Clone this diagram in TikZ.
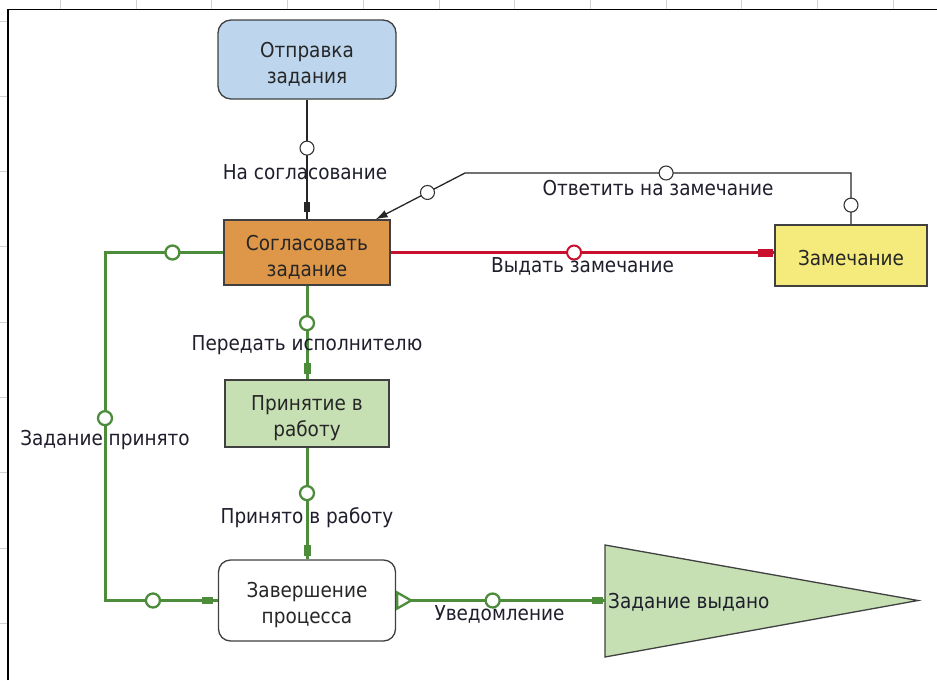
\documentclass[tikz,border=0pt]{standalone}
\usepackage{fontspec}
\setmainfont{DejaVu Sans}[FakeStretch=0.9]
\usetikzlibrary{calc,arrows.meta}

\definecolor{blueFill}{RGB}{189,214,238}
\definecolor{orangeFill}{RGB}{222,151,72}
\definecolor{yellowFill}{RGB}{245,235,125}
\definecolor{greenFill}{RGB}{198,224,180}
\definecolor{greenLine}{RGB}{76,140,58}
\definecolor{redLine}{RGB}{200,16,46}
\definecolor{labelText}{RGB}{30,30,45}
\newcommand{\topgap}[1]{\rule{0pt}{#1pt}}

\tikzset{
    box/.style={draw=black!75, line width=1.3pt, align=center, inner sep=0pt,
        font=\fontsize{20.5}{26}\selectfont, text=black!85},
    lbl/.style={font=\fontsize{20.5}{24}\selectfont, text=labelText, inner sep=0pt},
    ring/.style={circle, draw=#1, fill=white, minimum size=14pt, inner sep=0pt},
    bline/.style={draw=black!85, line width=1.3pt},
    gline/.style={draw=greenLine, line width=3pt},
    rline/.style={draw=redLine, line width=2.5pt},
    bmark/.style={rectangle, fill=black!85, minimum width=10pt, minimum height=6pt, inner sep=0pt},
    gmark/.style={rectangle, fill=greenLine, minimum width=11pt, minimum height=7pt, inner sep=0pt},
    rmark/.style={rectangle, fill=redLine, minimum width=15pt, minimum height=8pt, inner sep=0pt},
    gridline/.style={draw=gray!35, line width=1pt}
}

\begin{document}
\begin{tikzpicture}[x=1pt, y=-1pt]
    \useasboundingbox (0,0) rectangle (937,680);
    \foreach \gx in {0,...,11} \draw[gridline] (60.5+75.7*\gx,0) -- (60.5+75.7*\gx,8.5); % 表格网格
    \foreach \gy in {0,...,8} \draw[gridline] (0,21+75.3*\gy) -- (7.5,21+75.3*\gy);
    \draw[line width=1.5pt] (8,680) -- (8,9.5) -- (937,9.5); % 边框

    \node[box, rounded corners=13pt, fill=blueFill, minimum width=178pt, minimum height=79pt] (otpravka) at (307,59.5) {\topgap{25}Отправка\\задания}; % 开始
    \node[box, fill=orangeFill, minimum width=166pt, minimum height=65pt] (soglas) at (307,252.5) {\topgap{25}Согласовать\\задание};
    \node[box, fill=yellowFill, minimum width=152pt, minimum height=61pt] (zamech) at (851,255.5) {\topgap{21}Замечание};
    \node[box, fill=greenFill, minimum width=164pt, minimum height=67pt] (prinyat) at (307,413.5) {\topgap{25}Принятие в\\работу};
    \node[box, rounded corners=12pt, fill=white, minimum width=177pt, minimum height=81pt] (zaversh) at (307,600.5) {\topgap{25}Завершение\\процесса};
    \filldraw[draw=black!75, fill=greenFill, line width=1.3pt] (605,545) -- (918,600.5) -- (605,657) -- cycle; % 结束三角形
    \coordinate (vydan) at (605,600.5);
    \node[lbl, anchor=west] (vydanotext) at (608,602) {Задание выдано};

    \coordinate (lt) at (105,252.5); % 左侧折点
    \coordinate (lb) at (105,600.5);
    \coordinate (rt) at (851,173);   % 上方折点
    \coordinate (lk) at (465,173);

    \draw[bline] (otpravka.south) -- node[ring=black!80, line width=1.1pt, pos=0.405]{}
        node[lbl, pos=0.603, xshift=-2pt]{На согласование}
        node[bmark, pos=0.9, sloped]{} (soglas.north);
    \draw[bline, -{Latex[length=12pt,width=8pt]}] (zamech.north) -- node[ring=black!80, line width=1.1pt, pos=0.375]{} (rt)
        -- node[ring=black!80, line width=1.1pt, pos=0.479]{}
        node[lbl, pos=0.5, yshift=-15pt]{Ответить на замечание} (lk)
        -- node[ring=black!80, line width=1.1pt, pos=0.42]{} ([xshift=-15pt]soglas.north east);
    \draw[rline] (soglas.east) -- node[ring=redLine, line width=2pt, pos=0.478]{}
        node[lbl, pos=0.5, yshift=-14pt]{Выдать замечание}
        node[rmark, pos=0.977, sloped]{} (soglas.east -| zamech.west);
    \draw[gline] (soglas.west) -- node[ring=greenLine, line width=2.3pt, pos=0.43]{} (lt)
        -- node[ring=greenLine, line width=2.3pt, pos=0.476]{}
        node[lbl, pos=0.539]{Задание принято} (lb)
        -- node[ring=greenLine, line width=2.3pt, pos=0.425]{}
        node[gmark, pos=0.912, sloped]{} (zaversh.west);
    \draw[gline] (soglas.south) -- node[ring=greenLine, line width=2.3pt, pos=0.4]{}
        node[lbl, pos=0.64]{Передать исполнителю}
        node[gmark, pos=0.884, sloped]{} (prinyat.north);
    \draw[gline] (prinyat.south) -- node[ring=greenLine, line width=2.3pt, pos=0.407]{}
        node[lbl, pos=0.628]{Принято в работу}
        node[gmark, pos=0.92, sloped]{} (zaversh.north);
    \draw[gline] (zaversh.east) -- node[ring=greenLine, line width=2.3pt, pos=0.462]{}
        node[lbl, pos=0.495, yshift=-14pt]{Уведомление}
        node[gmark, pos=0.962, sloped]{} (vydan);
    \draw[gline, line width=2.3pt, fill=white] ($(zaversh.east)+(1,-8)$) -- ++(14,8) -- ++(-14,8) -- cycle; % 空心三角
\end{tikzpicture}
\end{document}
